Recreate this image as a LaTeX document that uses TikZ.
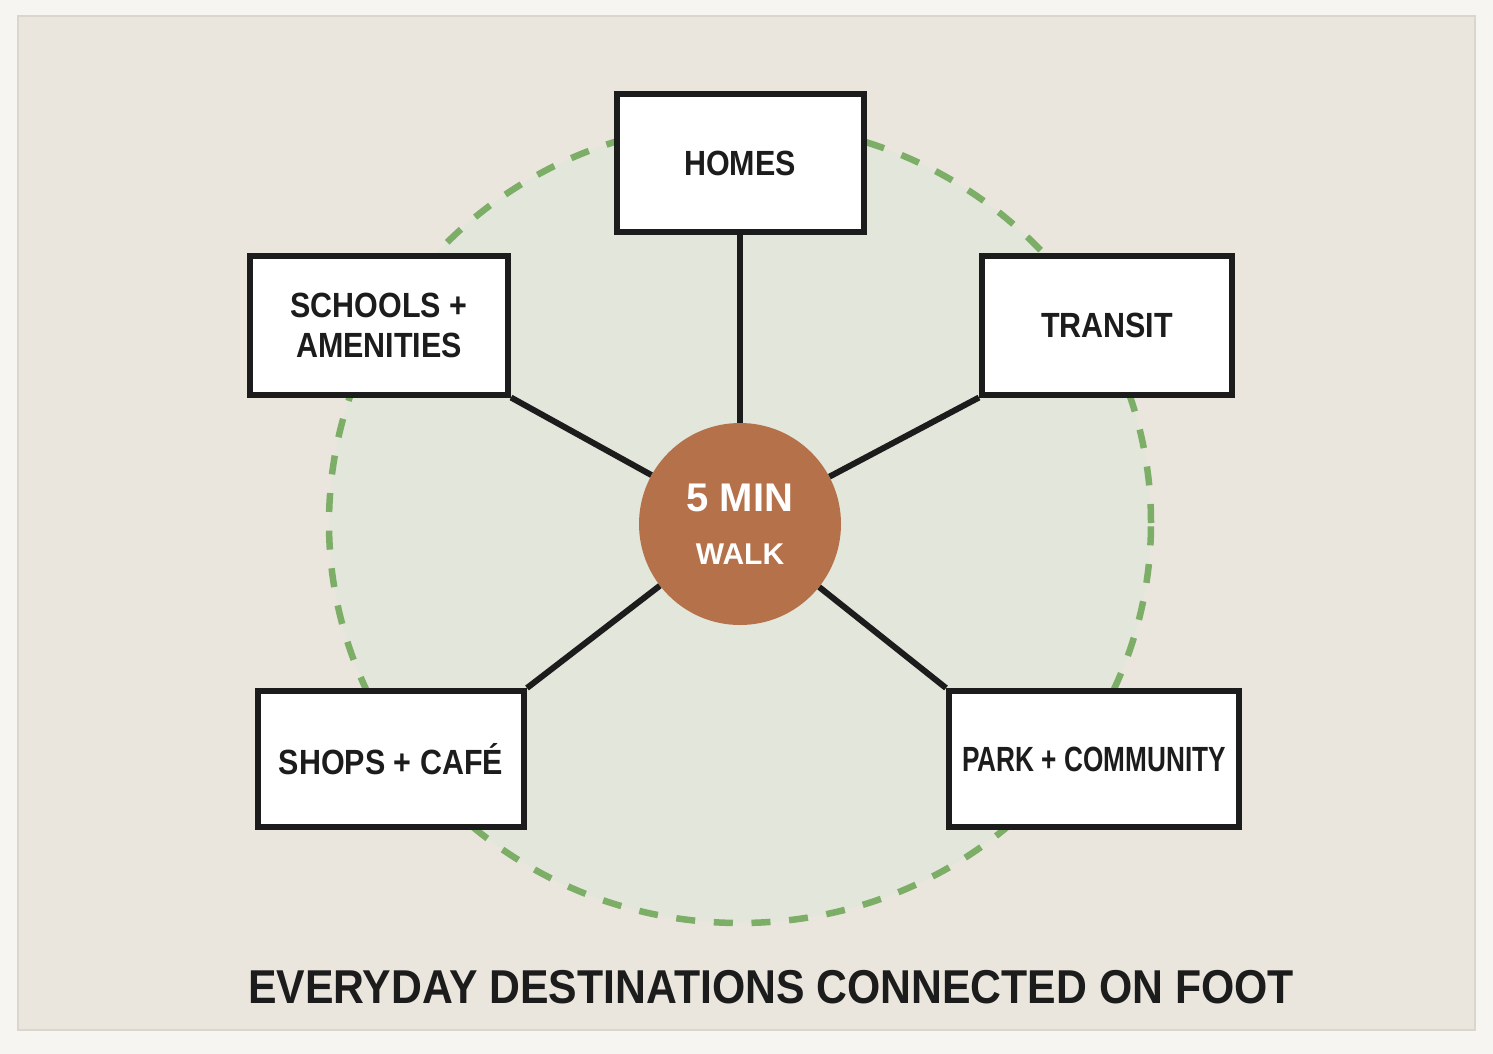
\documentclass[tikz,border=0pt]{standalone}
\usepackage{fontspec}
\usepackage{graphicx}
\usepackage{xcolor}
\setmainfont{Liberation Sans}
\newfontfamily\boxfont[FakeStretch=0.87]{Liberation Sans}
\newfontfamily\titlefont[FakeStretch=0.9]{Liberation Sans}
\usetikzlibrary{positioning}

\definecolor{pagebg}{HTML}{F7F5F1}
\definecolor{panelbg}{HTML}{EBE6DD}
\definecolor{panelline}{HTML}{DAD6CE}
\definecolor{walkzone}{HTML}{E3E6DA}
\definecolor{zoneline}{HTML}{7DAE68}
\definecolor{walkfill}{HTML}{B5714A}
\definecolor{ink}{HTML}{1C1C1C}

\tikzset{
  place/.style={rectangle,draw=ink,line width=6pt,fill=white,inner sep=0pt,align=center,
    text=ink,font=\boxfont\bfseries\fontsize{35}{40}\selectfont},
  link/.style={draw=ink,line width=6pt}
}

\begin{document}
\begin{tikzpicture}[x=1pt,y=-1pt]
\useasboundingbox (0,0) rectangle (1493,1054);
\fill [pagebg] (0,0) rectangle (1493,1054);
\filldraw [fill=panelbg,draw=panelline,line width=1.5pt] (18,16) rectangle (1475,1030);

% walking zone
\filldraw [fill=walkzone,draw=zoneline,line width=6.5pt,dash pattern=on 19pt off 18.7pt]
  (740,523) ellipse [x radius=411pt,y radius=400pt];

\node [circle,fill=walkfill,minimum size=202pt,inner sep=0pt,text=white,align=center] (walk) at (740,524)
  {{\fontsize{40}{40}\selectfont\bfseries 5 MIN}\\[31pt]{\fontsize{30}{30}\selectfont\bfseries WALK}};

\node [place,minimum width=247pt,minimum height=137pt] (homes) at (740,163) {HOMES};
\node [place,minimum width=258pt,minimum height=139pt] (schools) at (379,325) {SCHOOLS +\\AMENITIES};
\node [place,minimum width=250pt,minimum height=139pt] (transit) at (1107,325) {TRANSIT};
\node [place,minimum width=266pt,minimum height=136pt] (shops) at (391,759) {SHOPS + CAFÉ};
\node [place,minimum width=290pt,minimum height=136pt] (park) at (1094,759) {\scalebox{0.86}[1]{PARK + COMMUNITY}};

\draw [link] (walk) -- (homes.south);
\draw [link] (walk) -- (schools.south east);
\draw [link] (walk) -- (transit.south west);
\draw [link] (walk) -- (shops.north east);
\draw [link] (walk) -- (park.north west);

\node [anchor=base,text=ink,font=\titlefont\bfseries\fontsize{47.5}{48}\selectfont] (title) at (771,1003)
  {EVERYDAY DESTINATIONS CONNECTED ON FOOT};
\end{tikzpicture}
\end{document}
